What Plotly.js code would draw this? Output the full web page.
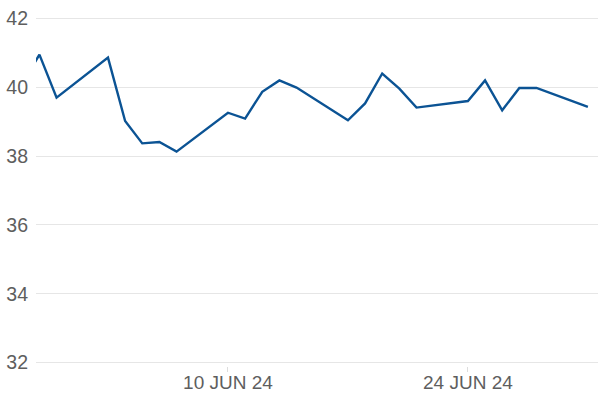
<!DOCTYPE html>
<html>
<head>
<meta charset="utf-8">
<script src="https://cdn.plot.ly/plotly-3.0.1.min.js"></script>
<style>html,body{margin:0;padding:0;background:#fff}#chart{width:600px;height:400px}</style>
</head>
<body>
<div id="chart"></div>
<script>
const dates = ['2024-05-29','2024-05-30','2024-05-31','2024-06-03','2024-06-04','2024-06-05','2024-06-06','2024-06-07',
  '2024-06-10','2024-06-11','2024-06-12','2024-06-13','2024-06-14','2024-06-17','2024-06-18','2024-06-19','2024-06-20','2024-06-21',
  '2024-06-24','2024-06-25','2024-06-26','2024-06-27','2024-06-28','2024-07-01'];
const values = [40.1,40.95,39.7,40.86,39.02,38.37,38.41,38.13,
  39.26,39.09,39.87,40.2,39.99,39.04,39.53,40.4,39.96,39.41,
  39.6,40.2,39.33,39.98,39.98,39.43];
const xTickVals = ['2024-06-10','2024-06-24'];
const xTickText = ['10 JUN 24','24 JUN 24'];
const yTickVals = [32,34,36,38,40,42];

const trace = {
  x: dates, y: values, type: 'scatter', mode: 'lines',
  line: {color: '#0b5394', width: 2.4},
  hoverinfo: 'skip'
};
const layout = {
  width: 600, height: 400,
  margin: {l: 36, r: 2, t: 15, b: 34},
  paper_bgcolor: '#fff', plot_bgcolor: '#fff',
  showlegend: false,
  font: {family: 'Liberation Sans, Arial, sans-serif', color: '#5e5e5e', size: 18},
  xaxis: {
    type: 'date',
    range: ['2024-05-29 19:12', '2024-07-01 14:10'],
    tickvals: xTickVals, ticktext: xTickText,
    showgrid: false, zeroline: false, showline: false,
    ticks: 'outside', ticklen: 5, tickcolor: '#dddddd', tickwidth: 1,
    ticklabelstandoff: -6,
    tickfont: {size: 19, color: '#5e5e5e'}
  },
  yaxis: {
    range: [31.9, 42.1],
    tickvals: yTickVals,
    showgrid: true, gridcolor: '#e6e6e6', gridwidth: 1,
    zeroline: false, showline: false,
    ticks: '', ticklabelstandoff: 7,
    tickfont: {size: 19.5, color: '#5e5e5e'}
  }
};
Plotly.newPlot('chart', [trace], layout, {displayModeBar: false, staticPlot: true});
</script>
</body>
</html>
